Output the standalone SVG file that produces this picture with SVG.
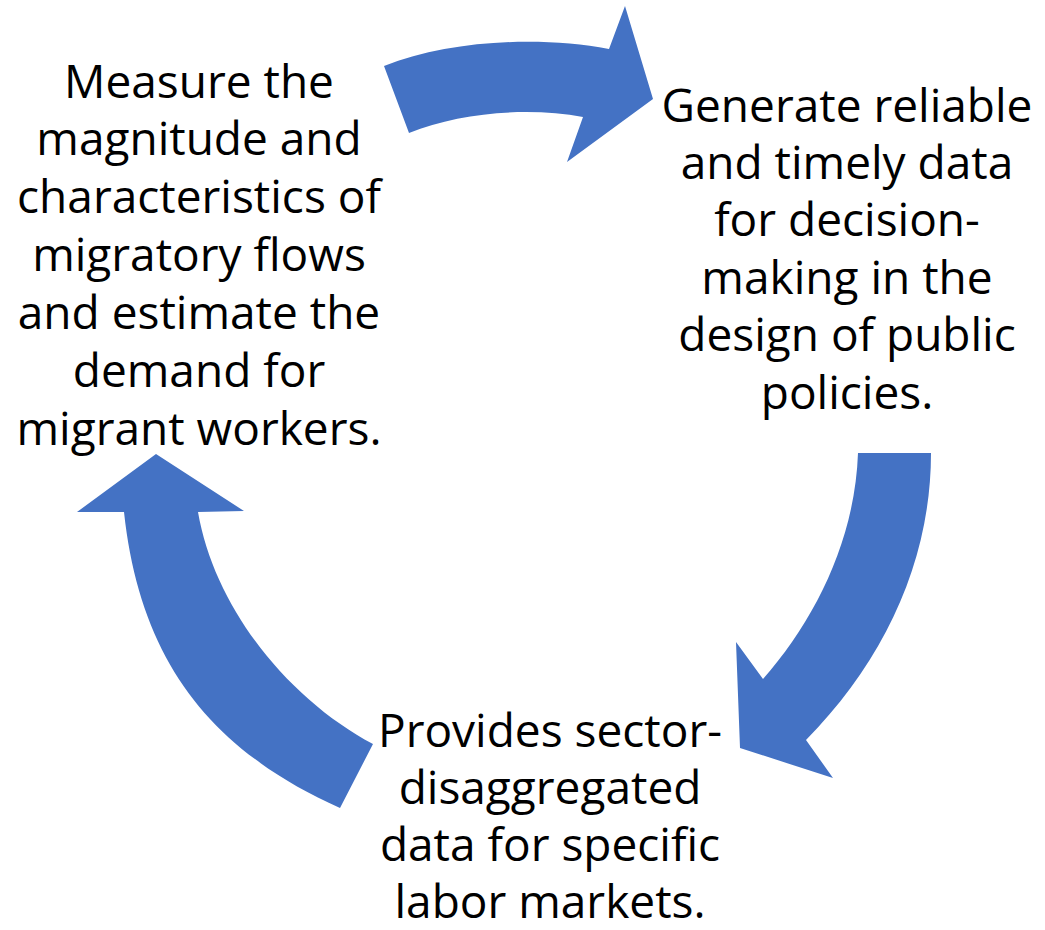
<svg xmlns="http://www.w3.org/2000/svg" width="1045" height="930" viewBox="0 0 1045 930">
<style>
.arrow{fill:#4472C4;stroke:none}
.lbl{font-family:"Open Sans","Liberation Sans",sans-serif;font-size:46px;fill:#000;text-anchor:middle}
</style>
<rect width="1045" height="930" fill="#fff"/>
<g id="connectors">
<path id="arrow-top" class="arrow" d="M384,66 C450,40 540,36 609,49 L625,6 L653,99 L567,162 L583,117 C530,107 460,112 409,133 Z"/>
<path id="arrow-right" class="arrow" d="M858,453 L931,453 C931,560 885,660 806,740 L833,778 L740,748 L736,642 L763,679 C815,620 855,540 858,453 Z"/>
<path id="arrow-left" class="arrow" d="M373,744 L340,808 C210,750 140,660 124,512 L77,512 L156,454 L244,511 L198,512 C215,610 290,700 373,744 Z"/>
</g>
<g id="node-measure">
<text class="lbl" x="199" y="97.5">Measure the</text>
<text class="lbl" x="199" y="155.4">magnitude and</text>
<text class="lbl" x="199" y="213.3">characteristics of</text>
<text class="lbl" x="199" y="271.2">migratory flows</text>
<text class="lbl" x="199" y="329.1">and estimate the</text>
<text class="lbl" x="199" y="387">demand for</text>
<text class="lbl" x="199" y="444.9">migrant workers.</text>
</g>
<g id="node-generate">
<text class="lbl" x="847" y="121.5">Generate reliable</text>
<text class="lbl" x="847" y="178.9">and timely data</text>
<text class="lbl" x="847" y="236.3">for decision-</text>
<text class="lbl" x="847" y="293.7">making in the</text>
<text class="lbl" x="847" y="351.1">design of public</text>
<text class="lbl" x="847" y="408.5">policies.</text>
</g>
<g id="node-provides">
<text class="lbl" x="550" y="747">Provides sector-</text>
<text class="lbl" x="550" y="804">disaggregated</text>
<text class="lbl" x="550" y="861">data for specific</text>
<text class="lbl" x="550" y="918">labor markets.</text>
</g>
</svg>
